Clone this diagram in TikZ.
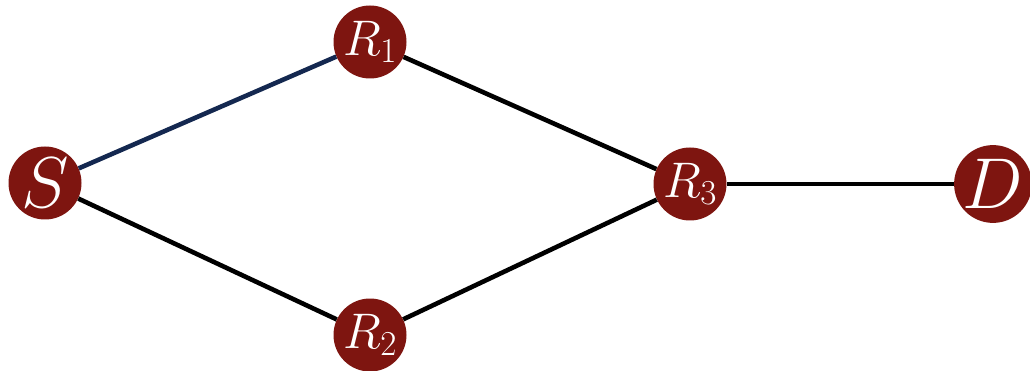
\RequirePackage{fix-cm}
\documentclass[tikz,border=0pt]{standalone}
\definecolor{nodered}{HTML}{7E1510}
\definecolor{edgeblue}{HTML}{142850}
\tikzset{
  netnode/.style={circle, fill=nodered, text=white, inner sep=0pt, minimum size=73pt},
  big/.style={font=\fontsize{72}{72}\selectfont},
  mid/.style={font=\fontsize{50}{50}\selectfont},
  link/.style={line width=4.6pt, black},
}
\begin{document}
\begin{tikzpicture}[x=1pt,y=-1pt]
\useasboundingbox (0,0) rectangle (1030,371);
\node[netnode, big] (S) at (45,183) {$S$};
\node[netnode, mid] (R1) at (370,42) {$R_1$};
\node[netnode, mid] (R2) at (370,335) {$R_2$};
\node[netnode, mid] (R3) at (690,184) {$R_3$};
\node[netnode, big] (D) at (993,184) {$D$};
\draw[link, edgeblue] (S) -- (R1);
\draw[link] (S) -- (R2);
\draw[link] (R1) -- (R3);
\draw[link] (R2) -- (R3);
\draw[link] (R3) -- (D);
\end{tikzpicture}
\end{document}
